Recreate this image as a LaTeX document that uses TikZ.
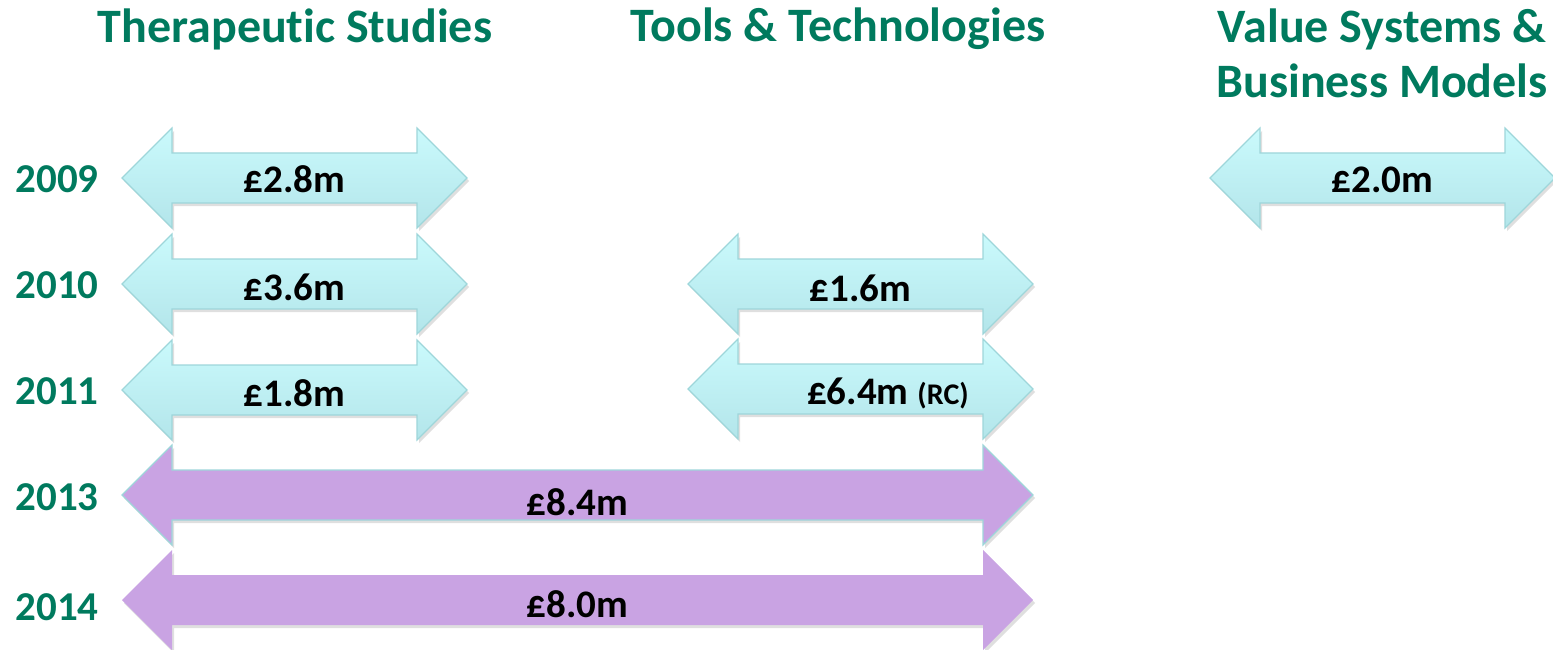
\documentclass[tikz,border=0pt]{standalone}
\usepackage{fontspec}
\setmainfont{Carlito}[Ligatures=NoCommon]
\usetikzlibrary{positioning,shadows}
\definecolor{headgreen}{HTML}{007A5E}
\definecolor{aquatop}{HTML}{CAFAFC}
\definecolor{aquabot}{HTML}{B3E5EA}
\definecolor{aquaedge}{HTML}{9ED6DA}
\definecolor{lilac}{HTML}{C9A3E3}
% double headed arrow: style, left tip, right tip, middle y, name
\newcommand{\fund}[5]{%
  \path[#1] (#2,#4) -- ({#2+50},{#4-50}) -- ({#2+50},{#4-25}) -- ({#3-50},{#4-25})
    -- ({#3-50},{#4-50}) -- (#3,#4) -- ({#3-50},{#4+50}) -- ({#3-50},{#4+25})
    -- ({#2+50},{#4+25}) -- ({#2+50},{#4+50}) -- cycle;
  \coordinate (#5) at ({(#2+#3)/2},#4);
}

\begin{document}
\begin{tikzpicture}[x=1pt,y=-1pt,
    heading/.style={text=headgreen,font=\bfseries\fontsize{48}{52}\selectfont,anchor=base},
    year/.style={text=headgreen,font=\bfseries\fontsize{41}{44}\selectfont,anchor=base},
    amount/.style={font=\bfseries\fontsize{39}{42}\selectfont,anchor=base,inner sep=0pt},
    aqua/.style={top color=aquatop,bottom color=aquabot,draw=aquaedge,line width=1.2pt,
      drop shadow={opacity=.25,shadow xshift=2pt,shadow yshift=-3pt}},
    lilacarrow/.style={fill=lilac,
      drop shadow={opacity=.25,shadow xshift=2pt,shadow yshift=-3pt}}]
    \useasboundingbox (0,0) rectangle (1553,650);

    % column headings
    \node[heading] (therap) at (295,43) {Therapeutic Studies};
    \node[heading] (tools) at (838,42) {Tools \& Technologies};
    \node[heading] (value) at (1382,43) {Value Systems \&};
    \node[heading] (business) at (1382,98) {Business Models};

    % years
    \foreach \yr/\yy in {2009/193,2010/298,2011/404,2013/510,2014/620}
    \node[year] (y\yr) at (57,\yy) {\yr};

    % therapeutic studies
    \fund{aqua}{122}{467}{178}{ts09}
    \fund{aqua}{122}{467}{284}{ts10}
    \fund{aqua}{122}{467}{390}{ts11}

    % tools and technologies
    \fund{aqua}{688}{1033}{284}{tt10}
    \fund{aqua}{688}{1033}{389}{tt11}

    % across both
    \fund{lilacarrow,draw=aquaedge,line width=1.2pt}{122}{1033}{495}{all13}
    \fund{lilacarrow}{122}{1033}{600}{all14}

    % value systems
    \fund{aqua}{1210}{1555}{178}{vs09}

    % amounts
    \node[amount] (m09) at ([yshift=-15pt]ts09) {£2.8m};
    \node[amount] (m10) at ([yshift=-16pt]ts10) {£3.6m};
    \node[amount] (m11) at ([yshift=-16pt]ts11) {£1.8m};
    \node[amount] (t10) at ([yshift=-17pt]tt10) {£1.6m};
    \node[amount,anchor=base west] (t11) at (807,404) {£6.4m {\fontsize{30}{32}\selectfont(RC)}};
    \node[amount] (a13) at ([yshift=-20pt]all13) {£8.4m};
    \node[amount] (a14) at ([yshift=-17pt]all14) {£8.0m};
    \node[amount] (v09) at ([yshift=-15pt]vs09) {£2.0m};
\end{tikzpicture}
\end{document}
